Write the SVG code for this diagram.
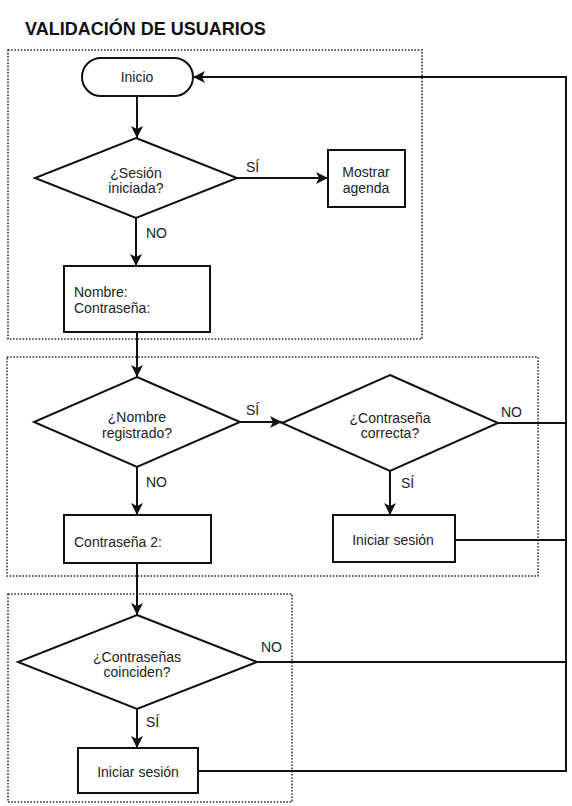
<svg xmlns="http://www.w3.org/2000/svg" width="572" height="806" viewBox="0 0 572 806">
<style>
.bg{fill:#fff}
.grp{fill:none;stroke:#333;stroke-width:1.6;stroke-dasharray:1.6 1.6}
.shape{fill:#fff;stroke:#111;stroke-width:2}
.conn{fill:none;stroke:#111;stroke-width:2}
text{font-family:"Liberation Sans",Arial,sans-serif;font-size:14px;fill:#222}
.c{text-anchor:middle}
.title{font-size:18px;font-weight:bold;fill:#111}
</style>
<defs>
<marker id="arr" viewBox="0 0 12 12" refX="12" refY="6" markerWidth="12" markerHeight="12" markerUnits="userSpaceOnUse" orient="auto">
<path d="M0,0 L12,6 L0,12 L3,6 z" fill="#111"/>
</marker>
</defs>
<rect class="bg" x="0" y="0" width="572" height="806"/>
<text class="title" x="25" y="35">VALIDACIÓN DE USUARIOS</text>
<g id="groups">
<rect class="grp" x="8" y="50" width="414" height="289"/>
<rect class="grp" x="7" y="357" width="531" height="219"/>
<rect class="grp" x="8" y="594" width="284" height="208"/>
</g>
<g id="connectors">
<path class="conn" d="M137,96 V138" marker-end="url(#arr)"/>
<path class="conn" d="M237,178 H328" marker-end="url(#arr)"/>
<path class="conn" d="M136,218 V266" marker-end="url(#arr)"/>
<path class="conn" d="M137,332 V377" marker-end="url(#arr)"/>
<path class="conn" d="M240,422 H282" marker-end="url(#arr)"/>
<path class="conn" d="M137,467 V515" marker-end="url(#arr)"/>
<path class="conn" d="M390,471 V515" marker-end="url(#arr)"/>
<path class="conn" d="M137,563 V615" marker-end="url(#arr)"/>
<path class="conn" d="M137,709 V748" marker-end="url(#arr)"/>
<path class="conn" d="M498,423 H566"/>
<path class="conn" d="M455,540 H566"/>
<path class="conn" d="M257,662 H566"/>
<path class="conn" d="M198,771 H566 V77 H193" marker-end="url(#arr)"/>
<text x="246" y="172">SÍ</text>
<text x="146" y="238">NO</text>
<text x="246" y="415">SÍ</text>
<text x="146" y="487">NO</text>
<text x="501" y="417">NO</text>
<text x="401" y="488">SÍ</text>
<text x="261" y="652">NO</text>
<text x="146" y="727">SÍ</text>
</g>
<g id="inicio">
<rect class="shape" x="82" y="58" width="111" height="38" rx="19" ry="19"/>
<text class="c" x="137" y="82">Inicio</text>
</g>
<g id="sesion-iniciada">
<polygon class="shape" points="136,138 237,178 136,218 35,178"/>
<text class="c" x="136" y="178">¿Sesión</text>
<text class="c" x="136" y="193">iniciada?</text>
</g>
<g id="mostrar-agenda">
<rect class="shape" x="328" y="150" width="77" height="57"/>
<text class="c" x="366" y="177">Mostrar</text>
<text class="c" x="366" y="193">agenda</text>
</g>
<g id="nombre-contrasena">
<rect class="shape" x="64" y="266" width="146" height="66"/>
<text x="74" y="297">Nombre:</text>
<text x="74" y="313">Contraseña:</text>
</g>
<g id="nombre-registrado">
<polygon class="shape" points="137,377 240,422 137,467 34,422"/>
<text class="c" x="137" y="422">¿Nombre</text>
<text class="c" x="137" y="438">registrado?</text>
</g>
<g id="contrasena-correcta">
<polygon class="shape" points="390,375 498,423 390,471 282,423"/>
<text class="c" x="390" y="423">¿Contraseña</text>
<text class="c" x="390" y="438">correcta?</text>
</g>
<g id="contrasena-2">
<rect class="shape" x="64" y="515" width="147" height="48"/>
<text x="74" y="547">Contraseña 2:</text>
</g>
<g id="iniciar-sesion-1">
<rect class="shape" x="333" y="515" width="122" height="47"/>
<text class="c" x="393" y="545">Iniciar sesión</text>
</g>
<g id="contrasenas-coinciden">
<polygon class="shape" points="137,615 257,662 137,709 18,662"/>
<text class="c" x="137" y="662">¿Contraseñas</text>
<text class="c" x="137" y="677">coinciden?</text>
</g>
<g id="iniciar-sesion-2">
<rect class="shape" x="78" y="748" width="120" height="45"/>
<text class="c" x="138" y="777">Iniciar sesión</text>
</g>
</svg>
